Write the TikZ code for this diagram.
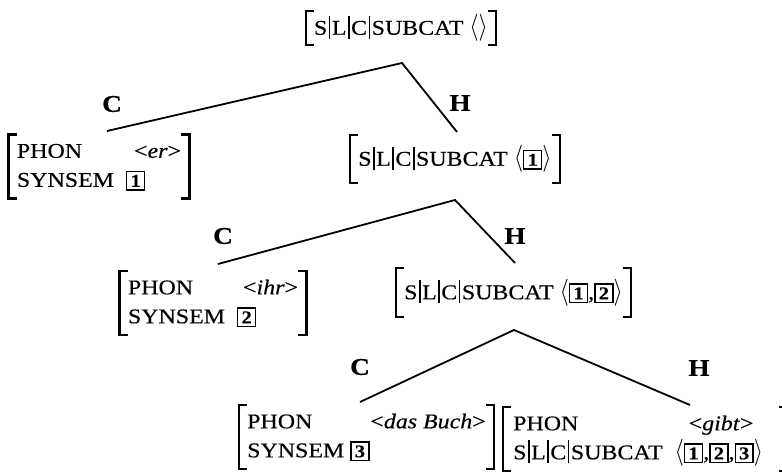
\documentclass[tikz,border=0pt]{standalone}
\usepackage{fontspec}
\setmainfont{Liberation Serif}[FakeStretch=1.14, FakeBold=0.4]
\newcommand\bx[1]{{\setlength\fboxsep{2pt}\setlength\fboxrule{1.4pt}\fbox{\makebox[12.5pt]{\rule[-0.5pt]{0pt}{13pt}\fontsize{18}{18}\selectfont\textbf{#1}}}}}
\newcommand\avl{\scalebox{1.15}[1.3]{$\langle$}}
\newcommand\avr{\scalebox{1.15}[1.3]{$\rangle$}}
\newcommand\vb{\hspace{1.5pt}\rule[-4pt]{1.6pt}{23pt}\hspace{1.5pt}}
\newcommand\slc{S\vb L\vb C\vb SUBCAT}
\newcommand\brk[1]{%
  \draw[brk] ([xshift=7pt]#1.north west) -- (#1.north west) -- (#1.south west) -- ([xshift=7pt]#1.south west);
  \draw[brk] ([xshift=-7pt]#1.north east) -- (#1.north east) -- (#1.south east) -- ([xshift=-7pt]#1.south east);}
\tikzset{
  avm/.style={inner xsep=8pt, inner ysep=3pt, font=\fontsize{21}{29}\selectfont},
  brk/.style={line width=2.5pt, line cap=rect},
  branch/.style={line width=1.8pt},
  lab/.style={font=\fontsize{24}{24}\selectfont\bfseries, inner sep=0pt},
}
\begin{document}
\begin{tikzpicture}[x=1pt,y=-1pt]
\useasboundingbox (0,0) rectangle (782,476);
% nodes
\node[avm, minimum height=34pt] (root) at (401,28) {\slc\ \avl\avr};
\node[avm] (er) at (99,166.5) {\begin{tabular}{@{}l@{\hspace{12pt}}l@{}}PHON & \hspace{8pt}<\textit{er}>\\ SYNSEM & \bx{1}\end{tabular}};
\node[avm, minimum height=48pt] (h1) at (455,159) {\slc\ \avl\bx{1}\avr};
\node[avm] (ihr) at (213,303) {\begin{tabular}{@{}l@{\hspace{12pt}}l@{}}PHON & \hspace{6pt}<\textit{ihr}>\\ SYNSEM & \bx{2}\end{tabular}};
\node[avm, minimum height=49pt] (h2) at (513.5,292.5) {\slc\ \avl\bx{1},\bx{2}\avr};
\node[avm] (buch) at (366.5,437) {\begin{tabular}{@{}l@{\hspace{6pt}}l@{}}PHON & \hspace{20pt}<\textit{das Buch}>\\ SYNSEM & \bx{3}\end{tabular}};
\node[avm, anchor=west, inner xsep=10pt] (gibt) at (503,439) {\begin{tabular}{@{}l@{\hspace{12pt}}l@{}}PHON & \hspace{14pt}<\textit{gibt}>\\ \slc & \avl\bx{1},\bx{2},\bx{3}\avr\kern14pt\end{tabular}};
\foreach \n in {root,er,h1,ihr,h2,buch,gibt} {\brk{\n}}
% branches
\coordinate (a1) at (402,63); \coordinate (c1) at (107,131); \coordinate (e1) at (457,132);
\coordinate (a2) at (455,200); \coordinate (c2) at (218,264); \coordinate (e2) at (515,263);
\coordinate (a3) at (514,330); \coordinate (c3) at (360,402); \coordinate (e3) at (690,405);
\draw[branch] (c1) -- (a1) -- (e1);
\draw[branch] (c2) -- (a2) -- (e2);
\draw[branch] (c3) -- (a3) -- (e3);
\node[lab] (C1) at (112,104) {C}; \node[lab] (H1) at (460,103) {H};
\node[lab] (C2) at (223,236) {C}; \node[lab] (H2) at (515,236) {H};
\node[lab] (C3) at (360,367) {C}; \node[lab] (H3) at (699,368) {H};
\end{tikzpicture}
\end{document}
